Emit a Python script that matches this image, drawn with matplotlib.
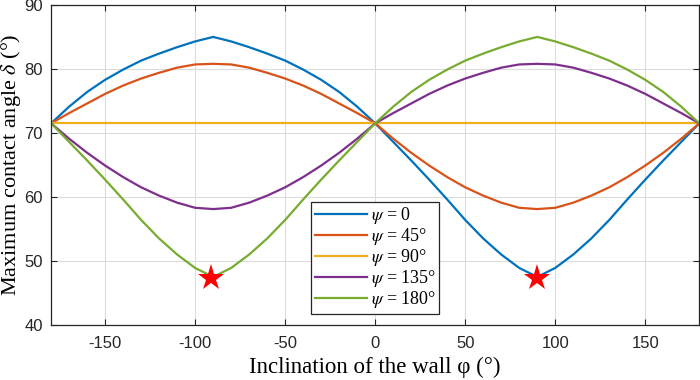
import matplotlib
matplotlib.use("Agg")
import matplotlib.pyplot as plt

phi = [-180, -170, -160, -150, -140, -130, -120, -110, -100, -90,
       -80, -70, -60, -50, -40, -30, -20, -10, 0,
       10, 20, 30, 40, 50, 60, 70, 80, 90,
       100, 110, 120, 130, 140, 150, 160, 170, 180]

psi_0 = [71.5, 74.1, 76.4, 78.3, 79.9, 81.3, 82.4, 83.4, 84.3, 85.0,
         84.3, 83.4, 82.4, 81.3, 79.9, 78.3, 76.4, 74.1, 71.5,
         68.6, 65.7, 62.7, 59.6, 56.4, 53.5, 51.0, 48.9, 47.5,
         48.9, 51.0, 53.5, 56.4, 59.6, 62.7, 65.7, 68.6, 71.5]
psi_45 = [71.5, 73.1, 74.6, 76.1, 77.4, 78.5, 79.4, 80.2, 80.7, 80.8,
          80.7, 80.2, 79.4, 78.5, 77.4, 76.1, 74.6, 73.1, 71.5,
          69.1, 66.9, 64.9, 63.1, 61.5, 60.2, 59.1, 58.3, 58.1,
          58.3, 59.1, 60.2, 61.5, 63.1, 64.9, 66.9, 69.1, 71.5]
psi_90_phi = [-180, 180]
psi_90 = [71.5, 71.5]
psi_135 = [71.5, 69.1, 66.9, 64.9, 63.1, 61.5, 60.2, 59.1, 58.3, 58.1,
           58.3, 59.1, 60.2, 61.5, 63.1, 64.9, 66.9, 69.1, 71.5,
           73.1, 74.6, 76.1, 77.4, 78.5, 79.4, 80.2, 80.7, 80.8,
           80.7, 80.2, 79.4, 78.5, 77.4, 76.1, 74.6, 73.1, 71.5]
psi_180 = [71.5, 68.6, 65.7, 62.7, 59.6, 56.4, 53.5, 51.0, 48.9, 47.5,
           48.9, 51.0, 53.5, 56.4, 59.6, 62.7, 65.7, 68.6, 71.5,
           74.1, 76.4, 78.3, 79.9, 81.3, 82.4, 83.4, 84.3, 85.0,
           84.3, 83.4, 82.4, 81.3, 79.9, 78.3, 76.4, 74.1, 71.5]

star_phi = [-91, 90]
star_delta = [47.3, 47.3]

labels = [r"$\psi$ = 0", r"$\psi$ = 45°", r"$\psi$ = 90°",
          r"$\psi$ = 135°", r"$\psi$ = 180°"]
colors = ["#0072BD", "#D95319", "#EDB120", "#7E2F8E", "#77AC30"]

plt.rcParams["mathtext.fontset"] = "stix"
plt.rcParams["axes.unicode_minus"] = False
serif = ["Liberation Serif", "DejaVu Serif"]
sans = ["Liberation Sans", "DejaVu Sans"]

fig = plt.figure(figsize=(7, 3.8), dpi=100)
ax = fig.add_axes([0.073, 0.145, 0.926, 0.842])

ax.plot(phi, psi_0, color=colors[0], lw=1.6, label=labels[0])
ax.plot(phi, psi_45, color=colors[1], lw=1.6, label=labels[1])
ax.plot(psi_90_phi, psi_90, color=colors[2], lw=1.6, label=labels[2])
ax.plot(phi, psi_135, color=colors[3], lw=1.6, label=labels[3])
ax.plot(phi, psi_180, color=colors[4], lw=1.6, label=labels[4])
ax.plot(star_phi, star_delta, ls="none", marker="*", ms=20,
        color="red", markeredgewidth=0, zorder=5)

ax.set_xlim(-180, 180)
ax.set_ylim(40, 90)
ax.set_xticks([-150, -100, -50, 0, 50, 100, 150])
ax.set_yticks([40, 50, 60, 70, 80, 90])
ax.grid(True, color="#dcdcdc", lw=0.8)
ax.set_axisbelow(True)
ax.tick_params(direction="in", top=True, right=True, length=4,
               colors="#262626", labelsize=12)
ax.tick_params(axis="x", pad=8)
ax.tick_params(axis="y", pad=6)
for lab in ax.get_xticklabels() + ax.get_yticklabels():
    lab.set_family(sans)
for s in ax.spines.values():
    s.set_color("#262626")
    s.set_linewidth(0.9)

ax.set_xlabel("Inclination of the wall φ (°)", family=serif, fontsize=16.5,
              labelpad=4)
ax.set_ylabel(r"Maximum contact angle $\delta$ (°)", family=serif,
              fontsize=16)
ax.yaxis.set_label_coords(-0.043, 0.5)

leg = ax.legend(loc="lower left", bbox_to_anchor=(0.401, 0.034),
                prop={"family": serif, "size": 13}, fancybox=False,
                edgecolor="#262626", framealpha=1, handlelength=2.9,
                handletextpad=0.2, borderpad=0.2, labelspacing=0.0,
                borderaxespad=0)
leg.get_frame().set_linewidth(0.9)

fig.savefig("out.png", dpi=100)
